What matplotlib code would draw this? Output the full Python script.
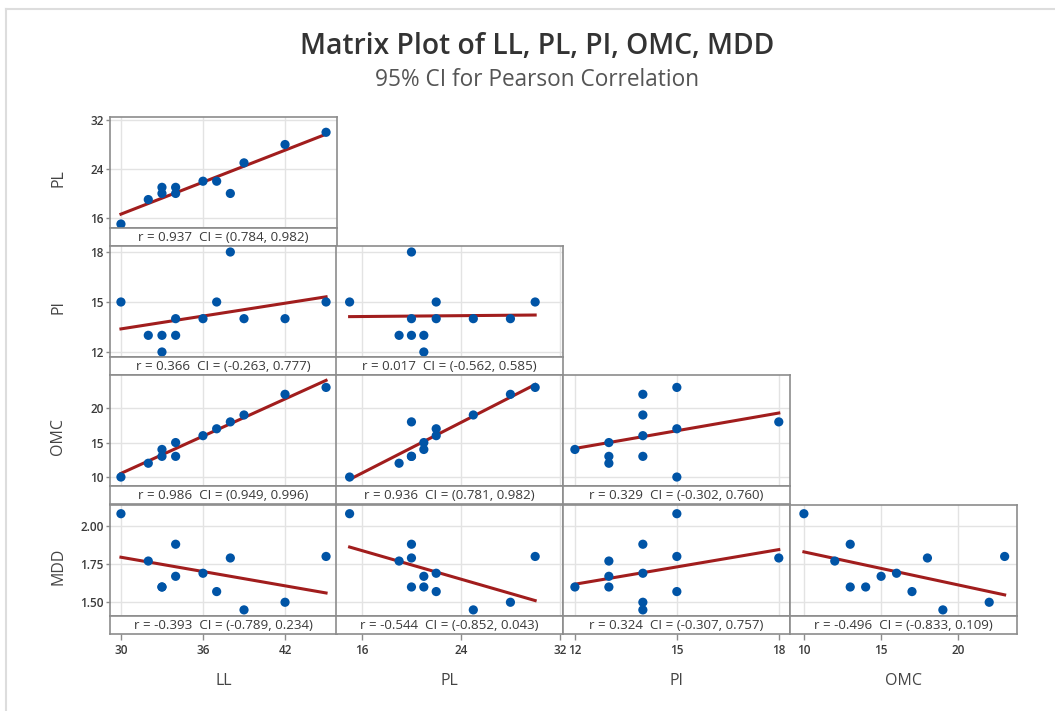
import numpy as np
import matplotlib
matplotlib.use("Agg")
import matplotlib.pyplot as plt
from matplotlib.lines import Line2D

plt.rcParams['font.family'] = ['Open Sans', 'DejaVu Sans']

# data (12 samples)
LL = [30, 32, 33, 33, 34, 34, 36, 37, 38, 39, 42, 45]
PL = [15, 19, 21, 20, 20, 21, 22, 22, 20, 25, 28, 30]
PI = [15, 13, 12, 13, 14, 13, 14, 15, 18, 14, 14, 15]
OMC = [10, 12, 14, 13, 13, 15, 16, 17, 18, 19, 22, 23]
MDD = [2.08, 1.77, 1.60, 1.60, 1.88, 1.67, 1.69, 1.57, 1.79, 1.45, 1.50, 1.80]

col_vars = ["LL", "PL", "PI", "OMC"]
row_vars = ["PL", "PI", "OMC", "MDD"]
data = {"LL": LL, "PL": PL, "PI": PI, "OMC": OMC, "MDD": MDD}

x_ticks = {"LL": [30, 36, 42], "PL": [16, 24, 32], "PI": [12, 15, 18], "OMC": [10, 15, 20]}
y_ticks = {"PL": [16, 24, 32], "PI": [12, 15, 18], "OMC": [10, 15, 20], "MDD": [1.50, 1.75, 2.00]}
y_tick_labels = {"PL": ["16", "24", "32"], "PI": ["12", "15", "18"],
                 "OMC": ["10", "15", "20"], "MDD": ["1.50", "1.75", "2.00"]}
x_lims = {"LL": (29.2, 45.8), "PL": (13.9, 32.25), "PI": (11.65, 18.33), "OMC": (9.1, 23.8)}
y_lims = {"PL": (14.35, 32.5), "PI": (11.7, 18.36), "OMC": (8.7, 24.8), "MDD": (1.41, 2.137)}

# correlation text per (row, col)
corr_text = {
    ("PL", "LL"): "r = 0.937  CI = (0.784, 0.982)",
    ("PI", "LL"): "r = 0.366  CI = (-0.263, 0.777)",
    ("PI", "PL"): "r = 0.017  CI = (-0.562, 0.585)",
    ("OMC", "LL"): "r = 0.986  CI = (0.949, 0.996)",
    ("OMC", "PL"): "r = 0.936  CI = (0.781, 0.982)",
    ("OMC", "PI"): "r = 0.329  CI = (-0.302, 0.760)",
    ("MDD", "LL"): "r = -0.393  CI = (-0.789, 0.234)",
    ("MDD", "PL"): "r = -0.544  CI = (-0.852, 0.043)",
    ("MDD", "PI"): "r = 0.324  CI = (-0.307, 0.757)",
    ("MDD", "OMC"): "r = -0.496  CI = (-0.833, 0.109)",
}

W, H = 1055, 711
fig = plt.figure(figsize=(W / 100, H / 100), dpi=100)


def box(x, y, w, h):
    # pixel box (top-left origin) -> figure fraction
    return [x / W, 1 - (y + h) / H, w / W, h / H]


col_left = [110, 336, 563, 790]
col_w = 227
row_top = [117, 246, 375, 505]
plot_h = 111
strip_h = 18

frame_c = "#8c8c8c"
grid_c = "#e3e3e3"
text_c = "#3a3a3a"
dot_c = "#0054a6"
line_c = "#a11d1d"

for i, rv in enumerate(row_vars):
    for j, cv in enumerate(col_vars):
        if j > i:
            continue
        ax = fig.add_axes(box(col_left[j], row_top[i], col_w, plot_h))
        st = fig.add_axes(box(col_left[j], row_top[i] + plot_h, col_w, strip_h))
        x = np.array(data[cv], dtype=float)
        y = np.array(data[rv], dtype=float)
        ax.scatter(x, y, s=44, color=dot_c, edgecolors="none", zorder=3)
        b, a = np.polyfit(x, y, 1)
        xs = np.array([x.min(), x.max()])
        ax.plot(xs, a + b * xs, color=line_c, lw=2.2, zorder=2)
        ax.set_xlim(x_lims[cv])
        ax.set_ylim(y_lims[rv])
        ax.set_xticks(x_ticks[cv])
        ax.set_yticks(y_ticks[rv])
        ax.grid(True, color=grid_c, lw=1)
        ax.set_axisbelow(True)
        ax.tick_params(axis="x", length=0, labelbottom=False)
        if j == 0:
            ax.set_yticklabels(y_tick_labels[rv], fontweight="semibold")
            ax.tick_params(axis="y", length=3, width=1, color=frame_c, pad=1.5,
                           labelsize=8.5, labelcolor=text_c)
        else:
            ax.tick_params(axis="y", length=0, labelleft=False)

        st.set_xlim(x_lims[cv])
        st.set_yticks([])
        st.text(0.5, 0.45, corr_text[(rv, cv)], transform=st.transAxes,
                ha="center", va="center", fontsize=9.6, color=text_c)
        if i == 3:
            st.set_xticks(x_ticks[cv])
            st.set_xticklabels([str(t) for t in x_ticks[cv]], fontweight="semibold")
            st.tick_params(axis="x", length=4, width=1, color=frame_c, pad=3,
                           labelsize=8.5, labelcolor=text_c)
        else:
            st.set_xticks([])
        for a_ in (ax, st):
            for sp in a_.spines.values():
                sp.set_color(frame_c)
                sp.set_linewidth(1.2)

# axis titles
for i, rv in enumerate(row_vars):
    fig.text(58 / W, 1 - (row_top[i] + plot_h / 2 + 6) / H, rv, rotation=90,
             ha="center", va="center", fontsize=11.5, color="#444444")
for j, cv in enumerate(col_vars):
    fig.text((col_left[j] + col_w / 2) / W, 1 - 681 / H, cv,
             ha="center", va="center", fontsize=11.5, color="#444444")

fig.text(0.509, 1 - 47 / H, "Matrix Plot of LL, PL, PI, OMC, MDD",
         ha="center", va="center", fontsize=20.3, fontweight="semibold", color="#333333")
fig.text(0.509, 1 - 80 / H, "95% CI for Pearson Correlation",
         ha="center", va="center", fontsize=16.3, color="#555555")

# light outer frame (only top and left visible)
fig.add_artist(Line2D([6 / W, 6 / W], [0, 1 - 9 / H], transform=fig.transFigure,
                      color="#dddddd", lw=1.5))
fig.add_artist(Line2D([6 / W, 1], [1 - 9 / H, 1 - 9 / H], transform=fig.transFigure,
                      color="#dddddd", lw=1.5))

fig.savefig("out.png", dpi=100)
